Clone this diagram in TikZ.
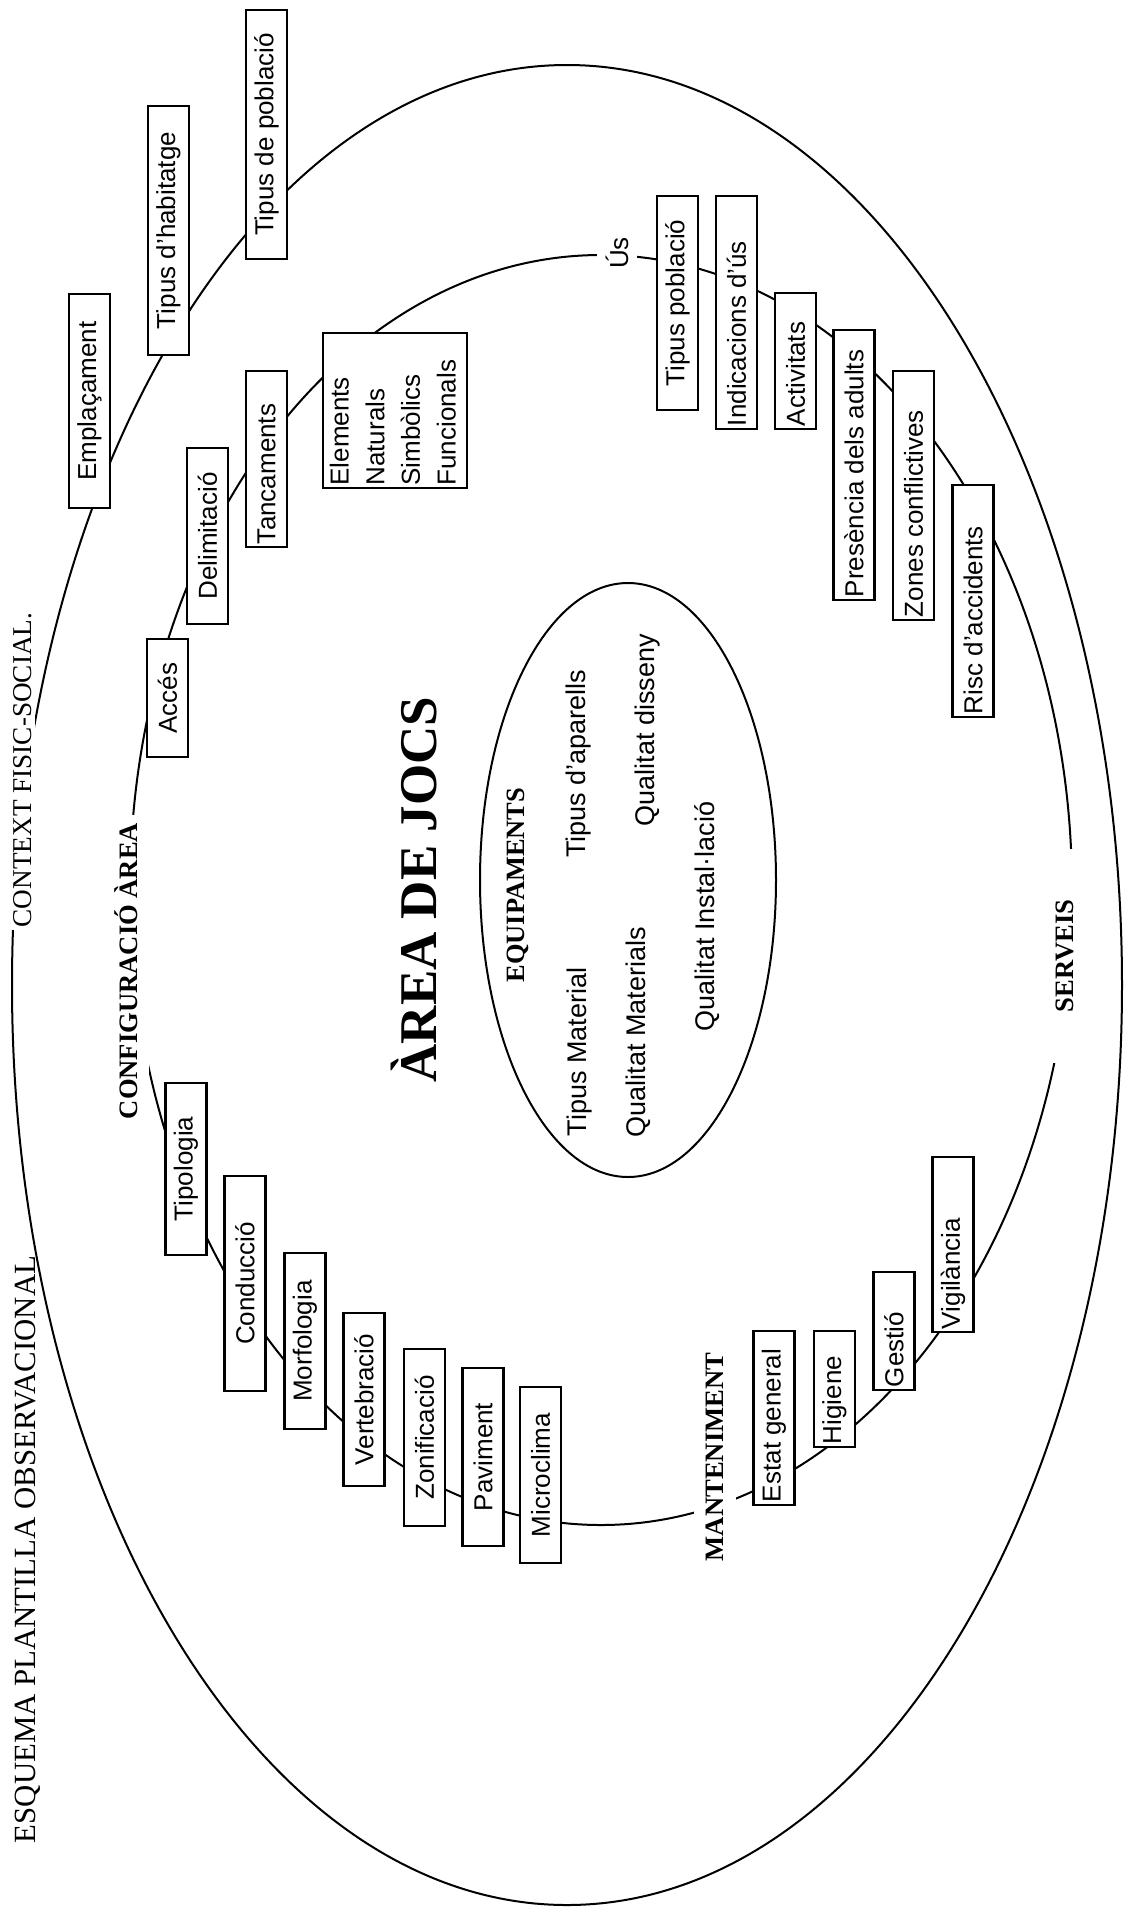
\documentclass[tikz,border=0pt]{standalone}
\usepackage{fontspec}
\setmainfont{Liberation Serif}
\setsansfont{Liberation Sans}
\usepackage{graphicx}

\newcommand{\vtxt}[1]{\rotatebox[origin=c]{90}{#1}}
\newcommand{\vtxtl}[2]{\rotatebox[origin=c]{90}{\makebox[#1][l]{#2}}}

\begin{document}
\begin{tikzpicture}[x=0.5pt,y=-0.5pt,
    ring/.style={line width=1pt},
    item/.style={draw,line width=1.1pt,fill=white,inner sep=0pt,minimum width=20.5pt,
                 font=\sffamily\fontsize{13}{15}\selectfont},
    head/.style={fill=white,font=\bfseries\fontsize{13.3}{15}\selectfont},
    cont/.style={font=\sffamily\fontsize{13.5}{16}\selectfont}]

    \fill[white] (0,0) rectangle (1124,1908);
    \useasboundingbox (0,0) rectangle (1124,1908);

    \draw[ring] (567,985) ellipse [x radius=555, y radius=920];
    \draw[ring] (601,890) ellipse [x radius=471, y radius=635];
    \draw[ring] (628,880) ellipse [x radius=148, y radius=297];

    % context
    \node[item,minimum height=107pt] (empl) at (89.5,401) {\vtxt{Emplaçament}};
    \node[item,minimum height=124.5pt] (habit) at (168.5,230.5) {\vtxt{Tipus d'habitatge}};
    \node[item,minimum height=124.5pt] (pobl) at (266.5,134.5) {\vtxt{Tipus de població}};

    % configuracio
    \node[item,minimum height=59pt] (acces) at (167.5,698) {\vtxt{Accés}};
    \node[item,minimum height=88pt] (delim) at (207.5,536) {\vtxt{Delimitació}};
    \node[item,minimum height=88pt] (tanca) at (266.5,459) {\vtxtl{85pt}{Tancaments}};
    \node[item,minimum width=72pt,minimum height=77.5pt,font=\sffamily\fontsize{13}{17.8}\selectfont] (tipus) at (395,410.5)
        {\vtxtl{75pt}{\begin{tabular}{@{}l@{}}Elements\\Naturals\\Simbòlics\\Funcionals\end{tabular}}};
    \node[item,minimum height=86pt] (tipol) at (186,1169) {\vtxt{Tipologia}};
    \node[item,minimum height=107.5pt] (condu) at (245,1283.5) {\vtxt{Conducció}};
    \node[item,minimum height=88pt] (morfo) at (305,1341) {\vtxt{Morfologia}};
    \node[item,minimum height=86.5pt] (verte) at (364,1399.5) {\vtxt{Vertebració}};
    \node[item,minimum height=88.5pt] (zonif) at (424.5,1437.5) {\vtxt{Zonificació}};
    \node[item,minimum height=89pt] (pavim) at (483,1457) {\vtxt{Paviment}};
    \node[item,minimum height=88pt] (micro) at (540.5,1475) {\vtxt{Microclima}};

    % manteniment
    \node[item,minimum height=87pt] (estat) at (774,1418) {\vtxtl{84pt}{Estat general}};
    \node[item,minimum height=58pt] (higie) at (834.5,1389) {\vtxtl{55pt}{Higiene}};
    \node[item,minimum height=59pt] (gesti) at (894,1331) {\vtxtl{56pt}{Gestió}};
    \node[item,minimum height=87.5pt] (vigil) at (953,1244.5) {\vtxtl{84.5pt}{Vigilància}};

    % us
    \node[item,minimum height=107pt] (tpobl) at (677.5,303) {\vtxt{Tipus població}};
    \node[item,minimum height=116.5pt] (indic) at (736.5,312.5) {\vtxtl{113.5pt}{Indicacions d'ús}};
    \node[item,minimum height=68pt] (activ) at (795.5,361) {\vtxtl{65pt}{Activitats}};
    \node[item,minimum height=135pt] (prese) at (854,465) {\vtxtl{132pt}{Presència dels adults}};
    \node[item,minimum height=124.5pt] (zones) at (913.5,495.5) {\vtxtl{121.5pt}{Zones conflictives}};
    \node[item,minimum height=116pt] (risc) at (973,601) {\vtxtl{113pt}{Risc d'accidents}};

    % rotols
    \node[head,inner xsep=5.5pt,inner ysep=4pt] (config) at (126,971) {\vtxt{CONFIGURACIÓ ÀREA}};
    \node[head,inner xsep=6pt,inner ysep=1pt] (mant) at (715,1457) {\vtxt{MANTENIMENT}};
    \node[head,inner xsep=2pt,inner ysep=25.5pt] (serv) at (1064.5,956) {\vtxt{SERVEIS}};
    \node[fill=white,inner xsep=4.5pt,inner ysep=1pt,font=\sffamily\fontsize{13}{15}\selectfont] (us) at (617,253) {\vtxt{Ús}};
    \node[fill=white,inner sep=1.5pt,font=\fontsize{13.6}{16}\selectfont] (context) at (23,770) {\vtxt{CONTEXT FISIC-SOCIAL.}};
    \node[font=\fontsize{15.4}{18}\selectfont] (titol) at (27.5,1549.5) {\vtxt{ESQUEMA PLANTILLA OBSERVACIONAL}};

    \node[font=\bfseries\fontsize{26.5}{30}\selectfont] (area) at (414,889.5) {\vtxt{ÀREA DE JOCS}};
    \node[font=\bfseries\fontsize{13.2}{15}\selectfont] (equip) at (518,885) {\vtxt{EQUIPAMENTS}};
    \node[cont] (aparells) at (579,763.5) {\vtxt{Tipus d'aparells}};
    \node[cont] (disseny) at (647.5,730) {\vtxt{Qualitat disseny}};
    \node[cont] (material) at (580,1052) {\vtxt{Tipus Material}};
    \node[cont] (qmat) at (638,1032) {\vtxt{Qualitat Materials}};
    \node[cont] (instal) at (707,916.5) {\vtxt{Qualitat Instal·lació}};
%   \node[cont] at (628,1100) {\vtxt{Seguretat}};

\end{tikzpicture}
\end{document}
